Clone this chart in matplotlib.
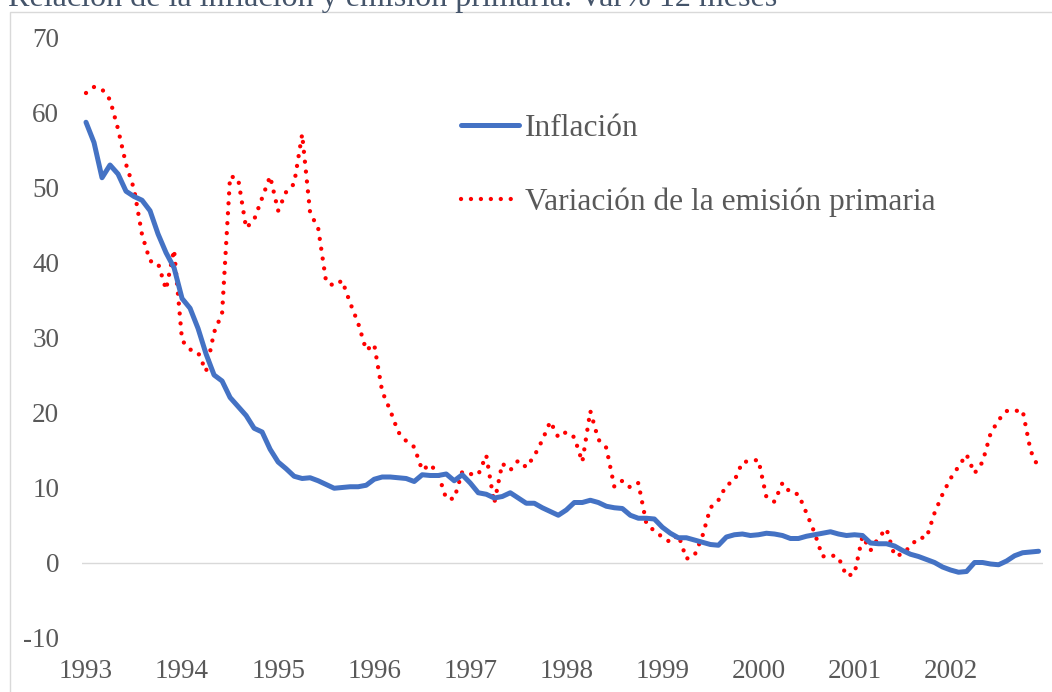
import matplotlib
matplotlib.use("Agg")
import matplotlib.pyplot as plt
from matplotlib.patches import Rectangle

# ---------------- data (monthly, Jan 1993 - Dec 2002) ----------------
inflacion = [
    58.7, 56.0, 51.3, 53.0, 51.8, 49.5, 48.8, 48.3, 46.9, 43.8, 41.3, 39.3,   # 1993
    35.2, 33.9, 31.2, 27.8, 25.0, 24.2, 22.0, 20.8, 19.6, 17.9, 17.4, 15.1,   # 1994
    13.4, 12.5, 11.5, 11.2, 11.3, 10.9, 10.4, 9.9, 10.0, 10.1, 10.1, 10.3,    # 1995
    11.1, 11.4, 11.4, 11.3, 11.2, 10.8, 11.7, 11.6, 11.6, 11.8, 10.9, 11.7,   # 1996
    10.6, 9.3, 9.1, 8.6, 8.8, 9.3, 8.6, 7.9, 7.9, 7.3, 6.8, 6.3,              # 1997
    7.0, 8.0, 8.0, 8.3, 8.0, 7.5, 7.3, 7.2, 6.3, 5.9, 5.9, 5.8,               # 1998
    4.7, 3.9, 3.3, 3.3, 3.0, 2.7, 2.4, 2.3, 3.4, 3.7, 3.8, 3.6,               # 1999
    3.7, 3.9, 3.8, 3.6, 3.2, 3.2, 3.5, 3.7, 3.9, 4.1, 3.8, 3.6,               # 2000
    3.7, 3.6, 2.6, 2.5, 2.5, 2.2, 1.6, 1.1, 0.8, 0.4, 0.0, -0.6,              # 2001
    -1.0, -1.3, -1.2, 0.0, 0.0, -0.2, -0.3, 0.2, 0.9, 1.3, 1.4, 1.5,          # 2002
]
emision = [
    62.6, 63.4, 63.1, 61.7, 57.8, 53.1, 49.8, 43.7, 40.2, 39.9, 36.4, 41.7,   # 1993
    29.6, 28.4, 28.0, 25.5, 30.7, 33.2, 51.5, 51.2, 44.6, 45.7, 48.6, 51.5,   # 1994
    46.9, 49.4, 50.5, 57.1, 46.6, 44.6, 37.4, 36.9, 37.6, 34.6, 31.9, 28.3,   # 1995
    29.1, 22.8, 20.3, 17.4, 16.2, 15.4, 12.3, 13.1, 11.8, 8.5, 8.5, 12.1,     # 1996
    11.8, 11.7, 14.3, 7.9, 13.2, 12.3, 13.6, 12.7, 14.2, 16.3, 18.8, 16.7,    # 1997
    17.4, 16.7, 13.4, 20.2, 16.4, 15.3, 10.1, 10.9, 10.0, 10.6, 5.2, 4.2,     # 1998
    3.4, 2.7, 3.7, 0.5, 0.9, 3.5, 7.3, 8.3, 10.3, 10.9, 13.4, 13.5,           # 1999
    13.7, 8.7, 8.1, 10.6, 9.3, 9.1, 6.6, 4.0, 0.8, 1.0, 0.7, -1.8,            # 2000
    -1.5, 3.5, 1.6, 3.3, 4.5, 0.9, 1.1, 2.2, 3.3, 3.3, 6.6, 9.1,              # 2001
    11.2, 12.8, 14.4, 11.9, 13.4, 17.2, 19.0, 20.2, 20.2, 20.3, 14.9, 12.6,   # 2002
]
years = ["1993", "1994", "1995", "1996", "1997", "1998", "1999", "2000", "2001", "2002"]
y_ticks = [-10, 0, 10, 20, 30, 40, 50, 60, 70]
series_names = ["Inflación", "Variación de la emisión primaria"]
title = "Relación de la inflación y emisión primaria. Var% 12 meses"

# ---------------- figure ----------------
W, H = 1052, 692
fig = plt.figure(figsize=(W / 100, H / 100), dpi=100)
plt.rcParams["font.family"] = ["Liberation Serif", "DejaVu Serif"]

def fx(px):
    return px / W

def fy(py):
    return 1 - py / H

# chart-area border
fig.add_artist(Rectangle((fx(10), -0.1), 1.2, fy(11.5) + 0.1, transform=fig.transFigure,
                         fill=False, edgecolor="#D9D9D9", linewidth=1.0))

ax_left, ax_right = 82, 1042.6
ax_top, ax_bot = 37.5, 637.5
ax = fig.add_axes([fx(ax_left), fy(ax_bot), (ax_right - ax_left) / W, (ax_bot - ax_top) / H])
ax.set_facecolor("none")

x = list(range(len(inflacion)))
ax.axhline(0, color="#D9D9D9", linewidth=1.0, zorder=1)
ax.plot(x, inflacion, color="#4472C4", linewidth=3.6, solid_capstyle="round",
        solid_joinstyle="round", label=series_names[0], zorder=3)
ax.plot(x, emision, color="#FF0000", linewidth=3.1, linestyle=(0, (0.01, 2.3)),
        dash_capstyle="round", label=series_names[1], zorder=2)

ax.set_xlim(-0.5, 119.5)
ax.set_ylim(-10, 70)
ax.set_yticks(y_ticks)
ax.set_yticklabels([str(v) for v in y_ticks])
ax.set_xticks([12 * k for k in range(len(years))])
ax.set_xticklabels(years)
for s in ax.spines.values():
    s.set_visible(False)
ax.tick_params(axis="y", length=0, pad=16.4, labelsize=19.5, labelcolor="#595959")
ax.tick_params(axis="x", length=0, pad=15.3, labelsize=19.5, labelcolor="#595959")

leg = ax.legend(loc="upper left", bbox_to_anchor=(fx(461), fy(114)), bbox_transform=fig.transFigure,
                frameon=False, fontsize=22.6, handlelength=1.86, handletextpad=0.19,
                labelspacing=1.43, borderpad=0, borderaxespad=0)
for t in leg.get_texts():
    t.set_color("#595959")

fig.text(fx(8), fy(6), title, fontsize=23.1, color="#44546A", ha="left", va="baseline")

fig.savefig("out.png", dpi=100)
